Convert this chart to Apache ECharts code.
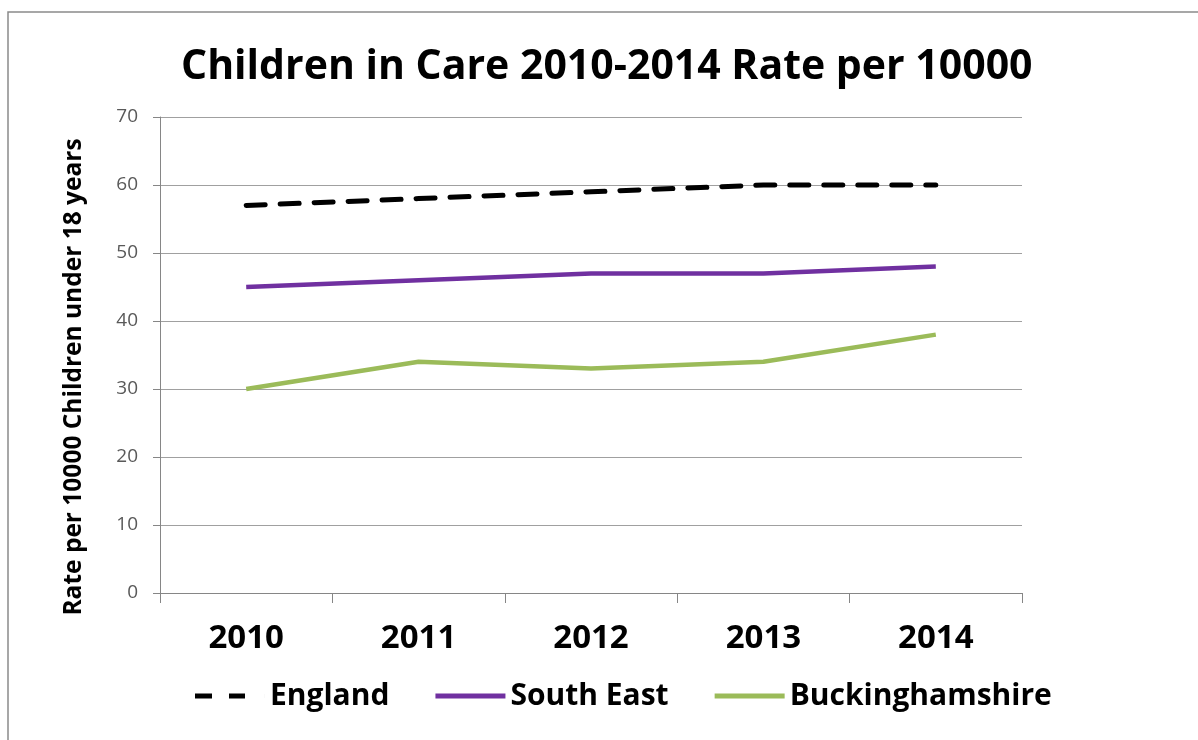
<!DOCTYPE html>
<html><head><meta charset="utf-8">
<script src="https://cdn.jsdelivr.net/npm/echarts@6/dist/echarts.min.js"></script>
<style>html,body{margin:0;padding:0;background:#fff}#c{width:1198px;height:740px}</style>
</head><body><div id="c"></div>
<script>
var years = ['2010','2011','2012','2013','2014'];
var england = [57, 58, 59, 60, 60];
var southEast = [45, 46, 47, 47, 48];
var bucks = [30, 34, 33, 34, 38];
var yTicks = [0,10,20,30,40,50,60,70];

var FONT = '"Open Sans","Noto Sans",Arial,sans-serif';
var chart = echarts.init(document.getElementById('c'), null, {renderer:'canvas'});
chart.setOption({
  animation:false,
  backgroundColor:'#fff',
  graphic:[{type:'rect',shape:{x:8,y:12,width:1200,height:740},style:{fill:'none',stroke:'#8a8a8a',lineWidth:1.5}}],
  title:{text:'Children in Care 2010-2014 Rate per 10000',left:176,top:42,
    textStyle:{fontFamily:FONT,fontWeight:'bold',fontSize:41,color:'#000'}},
  grid:{left:160,right:176,top:117,bottom:147},
  legend:{left:190,top:676,itemWidth:70,itemHeight:5,itemGap:46,
    textStyle:{fontFamily:FONT,fontWeight:'bold',fontSize:30,color:'#000'},
    data:[
      {name:'England',icon:'path://M0,0h17v5h-17z M34,0h16v5h-16z M69.98,0h0.02v5h-0.02z'},
      {name:'South East',icon:'rect'},
      {name:'Buckinghamshire',icon:'rect'}
    ]},
  xAxis:{type:'category',data:years,boundaryGap:true,
    axisLine:{lineStyle:{color:'#868686',width:1}},
    axisTick:{show:true,length:10,lineStyle:{color:'#868686'}},
    axisLabel:{fontFamily:FONT,fontWeight:'bold',fontSize:33,color:'#000',margin:29}},
  yAxis:{type:'value',min:0,max:70,interval:10,
    name:'Rate per 10000 Children under 18 years',nameLocation:'middle',nameGap:73,nameRotate:90,
    nameTextStyle:{fontFamily:FONT,fontWeight:'bold',fontSize:24.5,color:'#000',padding:[0,44,0,0]},
    axisLine:{show:true,lineStyle:{color:'#868686'}},
    axisTick:{show:true,length:7,inside:false,lineStyle:{color:'#868686'}},
    axisLabel:{fontFamily:FONT,fontSize:19,color:'#595959',margin:22,
      formatter:function(v){return yTicks.indexOf(v)>=0?String(v):'';}},
    splitLine:{lineStyle:{color:'#a0a0a0',width:1}}},
  series:[
    {name:'England',type:'line',data:england,symbol:'none',color:'#000',
      lineStyle:{color:'#000',width:5,type:[19,15],cap:'round'}},
    {name:'South East',type:'line',data:southEast,symbol:'none',color:'#7030A0',
      lineStyle:{color:'#7030A0',width:4.5}},
    {name:'Buckinghamshire',type:'line',data:bucks,symbol:'none',color:'#9BBB59',
      lineStyle:{color:'#9BBB59',width:4.5}}
  ]
});
</script></body></html>
